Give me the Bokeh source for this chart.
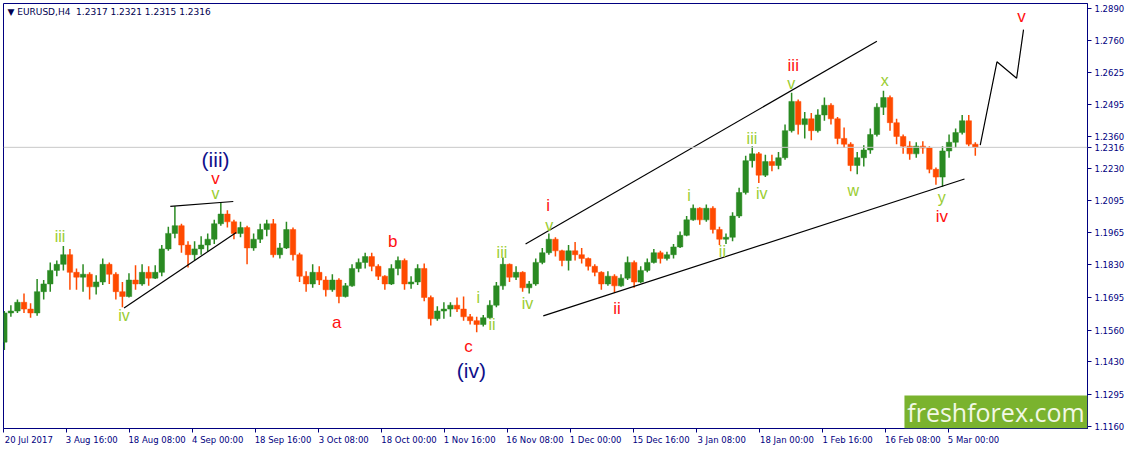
import numpy as np
from bokeh.plotting import figure
from bokeh.models import (Range1d, FixedTicker, Span, Label, BoxAnnotation, ColumnDataSource)
from bokeh.core.properties import value
from bokeh.embed import file_html
from bokeh.resources import INLINE

# ---- candle data (each candle spans 20/3 H4 bars), prices ----
opens = [1.1510, 1.1631, 1.1639, 1.1675, 1.1647, 1.1631, 1.1719, 1.1751, 1.1807, 1.1832,
         1.1872, 1.1799, 1.1779, 1.1791, 1.1739, 1.1759, 1.1832, 1.1791, 1.1719, 1.1699,
         1.1767, 1.1751, 1.1799, 1.1775, 1.1799, 1.1896, 1.1960, 1.1992, 1.1912, 1.1872,
         1.1896, 1.1912, 1.1936, 1.2000, 1.2040, 1.2008, 1.1960, 1.1984, 1.1900, 1.1936,
         1.1976, 1.2000, 1.1872, 1.1900, 1.1976, 1.1872, 1.1783, 1.1751, 1.1799, 1.1767,
         1.1727, 1.1767, 1.1699, 1.1743, 1.1815, 1.1840, 1.1864, 1.1824, 1.1783, 1.1751,
         1.1815, 1.1848, 1.1751, 1.1759, 1.1815, 1.1695, 1.1607, 1.1639, 1.1647, 1.1663,
         1.1647, 1.1615, 1.1599, 1.1583, 1.1611, 1.1663, 1.1743, 1.1832, 1.1779, 1.1799,
         1.1735, 1.1751, 1.1840, 1.1880, 1.1936, 1.1888, 1.1848, 1.1888, 1.1872, 1.1856,
         1.1824, 1.1799, 1.1751, 1.1783, 1.1743, 1.1775, 1.1840, 1.1759, 1.1807, 1.1840,
         1.1880, 1.1856, 1.1872, 1.1904, 1.1952, 1.2016, 1.2064, 1.2016, 1.2064, 1.1976,
         1.1936, 1.1944, 1.2032, 1.2129, 1.2261, 1.2289, 1.2201, 1.2257, 1.2241, 1.2273,
         1.2385, 1.2506, 1.2410, 1.2434, 1.2385, 1.2450, 1.2490, 1.2434, 1.2353, 1.2329,
         1.2241, 1.2273, 1.2305, 1.2369, 1.2482, 1.2522, 1.2418, 1.2361, 1.2321, 1.2289,
         1.2321, 1.2313, 1.2225, 1.2193, 1.2301, 1.2337, 1.2377, 1.2426, 1.2329]
highs = [1.1639, 1.1663, 1.1687, 1.1711, 1.1671, 1.1771, 1.1767, 1.1840, 1.1848, 1.1908,
         1.1896, 1.1815, 1.1832, 1.1799, 1.1787, 1.1856, 1.1840, 1.1799, 1.1759, 1.1795,
         1.1828, 1.1832, 1.1824, 1.1828, 1.1912, 1.1988, 1.2072, 1.2000, 1.1928, 1.1928,
         1.1948, 1.1960, 1.2016, 1.2088, 1.2056, 1.2016, 1.2008, 1.1992, 1.1960, 1.2000,
         1.2016, 1.2020, 1.1920, 1.2008, 1.1984, 1.1880, 1.1803, 1.1832, 1.1824, 1.1783,
         1.1791, 1.1775, 1.1755, 1.1832, 1.1856, 1.1880, 1.1880, 1.1832, 1.1787, 1.1832,
         1.1864, 1.1856, 1.1783, 1.1832, 1.1836, 1.1703, 1.1659, 1.1675, 1.1675, 1.1695,
         1.1699, 1.1627, 1.1615, 1.1623, 1.1683, 1.1759, 1.1860, 1.1836, 1.1824, 1.1803,
         1.1763, 1.1856, 1.1900, 1.1960, 1.1944, 1.1892, 1.1912, 1.1924, 1.1900, 1.1860,
         1.1832, 1.1803, 1.1803, 1.1791, 1.1791, 1.1864, 1.1848, 1.1824, 1.1856, 1.1896,
         1.1888, 1.1884, 1.1916, 1.1968, 1.2032, 1.2080, 1.2068, 1.2080, 1.2072, 1.1988,
         1.1960, 1.2048, 1.2149, 1.2281, 1.2321, 1.2297, 1.2285, 1.2285, 1.2297, 1.2410,
         1.2542, 1.2514, 1.2462, 1.2458, 1.2474, 1.2522, 1.2498, 1.2442, 1.2398, 1.2337,
         1.2297, 1.2325, 1.2394, 1.2498, 1.2550, 1.2530, 1.2434, 1.2369, 1.2341, 1.2337,
         1.2341, 1.2321, 1.2233, 1.2321, 1.2369, 1.2394, 1.2450, 1.2450, 1.2337]
lows = [1.1478, 1.1615, 1.1631, 1.1631, 1.1611, 1.1619, 1.1687, 1.1719, 1.1783, 1.1807,
        1.1727, 1.1727, 1.1719, 1.1687, 1.1707, 1.1747, 1.1751, 1.1687, 1.1655, 1.1695,
        1.1727, 1.1743, 1.1743, 1.1771, 1.1783, 1.1888, 1.1940, 1.1880, 1.1819, 1.1848,
        1.1872, 1.1884, 1.1916, 1.1992, 1.1984, 1.1936, 1.1944, 1.1832, 1.1888, 1.1920,
        1.1948, 1.1860, 1.1856, 1.1896, 1.1848, 1.1759, 1.1719, 1.1735, 1.1747, 1.1699,
        1.1719, 1.1671, 1.1695, 1.1739, 1.1799, 1.1815, 1.1803, 1.1767, 1.1727, 1.1747,
        1.1787, 1.1727, 1.1731, 1.1747, 1.1679, 1.1579, 1.1599, 1.1607, 1.1615, 1.1635,
        1.1599, 1.1583, 1.1551, 1.1575, 1.1607, 1.1655, 1.1727, 1.1759, 1.1767, 1.1719,
        1.1711, 1.1743, 1.1832, 1.1872, 1.1864, 1.1824, 1.1807, 1.1848, 1.1836, 1.1807,
        1.1783, 1.1727, 1.1743, 1.1715, 1.1739, 1.1767, 1.1735, 1.1755, 1.1799, 1.1836,
        1.1836, 1.1848, 1.1856, 1.1900, 1.1948, 1.2012, 1.1996, 1.2008, 1.1960, 1.1912,
        1.1916, 1.1928, 1.2024, 1.2121, 1.2233, 1.2169, 1.2193, 1.2217, 1.2225, 1.2265,
        1.2377, 1.2369, 1.2353, 1.2345, 1.2377, 1.2426, 1.2410, 1.2329, 1.2313, 1.2217,
        1.2205, 1.2237, 1.2289, 1.2361, 1.2450, 1.2385, 1.2329, 1.2289, 1.2265, 1.2273,
        1.2289, 1.2209, 1.2161, 1.2153, 1.2273, 1.2313, 1.2369, 1.2321, 1.2281]
closes = [1.1631, 1.1639, 1.1675, 1.1647, 1.1631, 1.1719, 1.1751, 1.1807, 1.1832, 1.1872,
          1.1799, 1.1779, 1.1791, 1.1739, 1.1759, 1.1832, 1.1791, 1.1719, 1.1699, 1.1767,
          1.1751, 1.1799, 1.1775, 1.1799, 1.1896, 1.1960, 1.1992, 1.1912, 1.1872, 1.1896,
          1.1912, 1.1936, 1.2000, 1.2040, 1.2008, 1.1960, 1.1984, 1.1900, 1.1936, 1.1976,
          1.2000, 1.1872, 1.1900, 1.1976, 1.1872, 1.1783, 1.1751, 1.1799, 1.1767, 1.1727,
          1.1767, 1.1699, 1.1743, 1.1815, 1.1840, 1.1864, 1.1824, 1.1783, 1.1751, 1.1815,
          1.1848, 1.1751, 1.1759, 1.1815, 1.1695, 1.1607, 1.1639, 1.1647, 1.1663, 1.1647,
          1.1615, 1.1599, 1.1583, 1.1611, 1.1663, 1.1743, 1.1832, 1.1779, 1.1799, 1.1735,
          1.1751, 1.1840, 1.1880, 1.1936, 1.1888, 1.1848, 1.1888, 1.1872, 1.1856, 1.1824,
          1.1799, 1.1751, 1.1783, 1.1743, 1.1775, 1.1840, 1.1759, 1.1807, 1.1840, 1.1880,
          1.1856, 1.1872, 1.1904, 1.1952, 1.2016, 1.2064, 1.2016, 1.2064, 1.1976, 1.1936,
          1.1944, 1.2032, 1.2129, 1.2261, 1.2289, 1.2201, 1.2257, 1.2241, 1.2273, 1.2385,
          1.2506, 1.2410, 1.2434, 1.2385, 1.2450, 1.2490, 1.2434, 1.2353, 1.2329, 1.2241,
          1.2273, 1.2305, 1.2369, 1.2482, 1.2522, 1.2418, 1.2361, 1.2321, 1.2289, 1.2321,
          1.2313, 1.2225, 1.2193, 1.2301, 1.2337, 1.2377, 1.2426, 1.2329, 1.2316]

CANDLE_SPAN = 20 / 3  # H4 bars covered by each candle above
LAST_PRICE = 1.2316

# ---- axis ticks ----
time_ticks = [0, 64, 128, 192, 256, 320, 384, 448, 512, 576, 640, 704, 768, 832, 896, 960]
time_labels = ["20 Jul 2017", "3 Aug 16:00", "18 Aug 08:00", "4 Sep 00:00", "18 Sep 16:00",
               "3 Oct 08:00", "18 Oct 00:00", "1 Nov 16:00", "16 Nov 08:00", "1 Dec 00:00",
               "15 Dec 16:00", "3 Jan 08:00", "18 Jan 00:00", "1 Feb 16:00", "16 Feb 08:00",
               "5 Mar 00:00"]
price_ticks = [1.1160, 1.1295, 1.1430, 1.1560, 1.1695, 1.1830, 1.1965, 1.2095,
               1.2230, 1.2360, 1.2495, 1.2625, 1.2760, 1.2890]

# ---- wave labels ----
wave_text = ["(iii)", "v", "v", "iii", "iv", "a", "b", "c", "(iv)", "i", "ii", "iii", "iv",
             "i", "v", "ii", "i", "ii", "iii", "iv", "iii", "v", "w", "x", "y", "iv", "v"]
wave_x = [215, 215, 215, 57, 122, 338, 395, 472, 475, 482, 496, 506, 532,
          553, 554, 623, 696, 730, 760, 770, 802, 800, 863, 895, 953, 953, 1034]
wave_y = [1.2265, 1.2189, 1.2125, 1.1948, 1.1619, 1.1591, 1.1928, 1.1494, 1.1394, 1.1695,
          1.1583, 1.1880, 1.1671, 1.2076, 1.1992, 1.1651, 1.2117, 1.1884, 1.2353, 1.2125,
          1.2654, 1.2582, 1.2137, 1.2594, 1.2108, 1.2028, 1.2859]
wave_kind = ["major", "red", "green", "green", "green", "red", "red", "red", "major", "green",
             "green", "green", "green", "red", "green", "red", "green", "green", "green",
             "green", "red", "green", "green", "green", "green", "red", "red"]

# ---- trend lines (bar index, price) ----
tri_top_x = [169, 233]; tri_top_y = [1.2072, 1.2092]
tri_bot_x = [122, 236]; tri_bot_y = [1.1651, 1.1964]
chan_top_x = [530, 887]; chan_top_y = [1.1916, 1.2755]
chan_bot_x = [548, 976]; chan_bot_y = [1.1619, 1.2185]
proj_x = [992, 1009, 1029, 1036]; proj_y = [1.2325, 1.2670, 1.2602, 1.2803]

NAVY = "#000080"
UP = "#2A8A22"
DOWN = "#FF4A00"
FONT = "DejaVu Sans"
AXIS_FONT_SIZE = "8.5px"

n = len(opens)
o = np.array(opens); h = np.array(highs); l = np.array(lows); c = np.array(closes)
xs = np.arange(n) * CANDLE_SPAN + CANDLE_SPAN / 2 - 3
colors = np.where(c >= o, UP, DOWN)
src = ColumnDataSource(dict(x=xs, h=h, l=l, top=np.maximum(o, c), bottom=np.minimum(o, c),
                            color=colors))

x0, x1 = -0.5, 1101.0
y0, y1 = 1.1153, 1.2911
W, H = 1127, 447
p = figure(width=W, height=H, x_range=Range1d(x0, x1), y_range=Range1d(y0, y1),
           output_backend="svg", toolbar_location=None, y_axis_location="right",
           min_border_left=3, min_border_top=3, min_border_right=0, min_border_bottom=0)
p.background_fill_color = "white"
p.border_fill_color = "white"
p.outline_line_color = NAVY
p.outline_line_width = 1
p.grid.visible = False

for ax in (p.xaxis[0], p.yaxis[0]):
    ax.axis_line_color = NAVY
    ax.major_tick_line_color = NAVY
    ax.minor_tick_line_color = None
    ax.major_tick_in = 0
    ax.major_tick_out = 4
    ax.major_label_text_color = NAVY
    ax.major_label_text_font = FONT
    ax.major_label_text_font_size = AXIS_FONT_SIZE
    ax.major_label_standoff = 3

# time axis: MT4 draws each date label to the right of its tick mark.
px_per_unit = (W - 3 - 38) / (x1 - x0)
label_centers = [round(t + (-1 + 4.7 * len(s) / 2) / px_per_unit, 2)
                 for t, s in zip(time_ticks, time_labels)]
p.xaxis.ticker = FixedTicker(ticks=label_centers, minor_ticks=time_ticks)
p.xaxis.major_label_overrides = {cpos: s for cpos, s in zip(label_centers, time_labels)}
p.xaxis.major_tick_line_color = None
p.xaxis.minor_tick_line_color = NAVY
p.xaxis.minor_tick_in = 0
p.xaxis.minor_tick_out = 4
p.xaxis.major_label_standoff = 2

# price axis, including the current-price tag value
axis_prices = sorted(price_ticks + [LAST_PRICE])
p.yaxis.ticker = FixedTicker(ticks=axis_prices)
p.yaxis.major_label_overrides = {t: f"{t:.4f}" for t in axis_prices}

# current price line
p.add_layout(Span(location=LAST_PRICE, dimension="width", line_color="#C8C8C8", line_width=1))

# watermark box
p.add_layout(BoxAnnotation(left=915, right=x1, bottom=y0, top=1.1290,
                           fill_color="#7AB32E", fill_alpha=1, line_alpha=0))
p.add_layout(Label(x=1008, y=1.1222, text="freshforex.com", text_align="center",
                   text_baseline="middle", text_font="Open Sans",
                   text_font_size="25px", text_color="#F2F8E6"))

# candles
p.segment(x0="x", y0="h", x1="x", y1="l", line_color="color", line_width=1.5, source=src)
p.vbar(x="x", top="top", bottom="bottom", width=5.6, fill_color="color", line_color="color",
       line_width=0.5, source=src)

# trend lines
for lx, ly in ((tri_top_x, tri_top_y), (tri_bot_x, tri_bot_y), (chan_top_x, chan_top_y),
               (chan_bot_x, chan_bot_y), (proj_x, proj_y)):
    p.line(lx, ly, line_color="black", line_width=1.2)

# wave labels
color_map = {"major": "#10108A", "red": "#FF1010", "green": "#9ACD32"}
size_map = {"major": "21px", "red": "17px", "green": "16px"}
wsrc = ColumnDataSource(dict(x=wave_x, y=wave_y, text=wave_text,
                             color=[color_map[k] for k in wave_kind],
                             size=[size_map[k] for k in wave_kind]))
p.text(x="x", y="y", text="text", text_color="color", text_font_size="size",
       text_font=value("Liberation Sans"), text_align="center", text_baseline="middle",
       source=wsrc)

# header
p.add_layout(Label(x=x0, y=y1, x_offset=4, y_offset=-3,
                   text="\u25BC EURUSD,H4\u00a0 1.2317 1.2321 1.2315 1.2316",
                   text_baseline="top", text_align="left", text_font=FONT,
                   text_font_size="9px", text_color="#000050"))

open("out.html", "w").write(file_html(p, INLINE))
